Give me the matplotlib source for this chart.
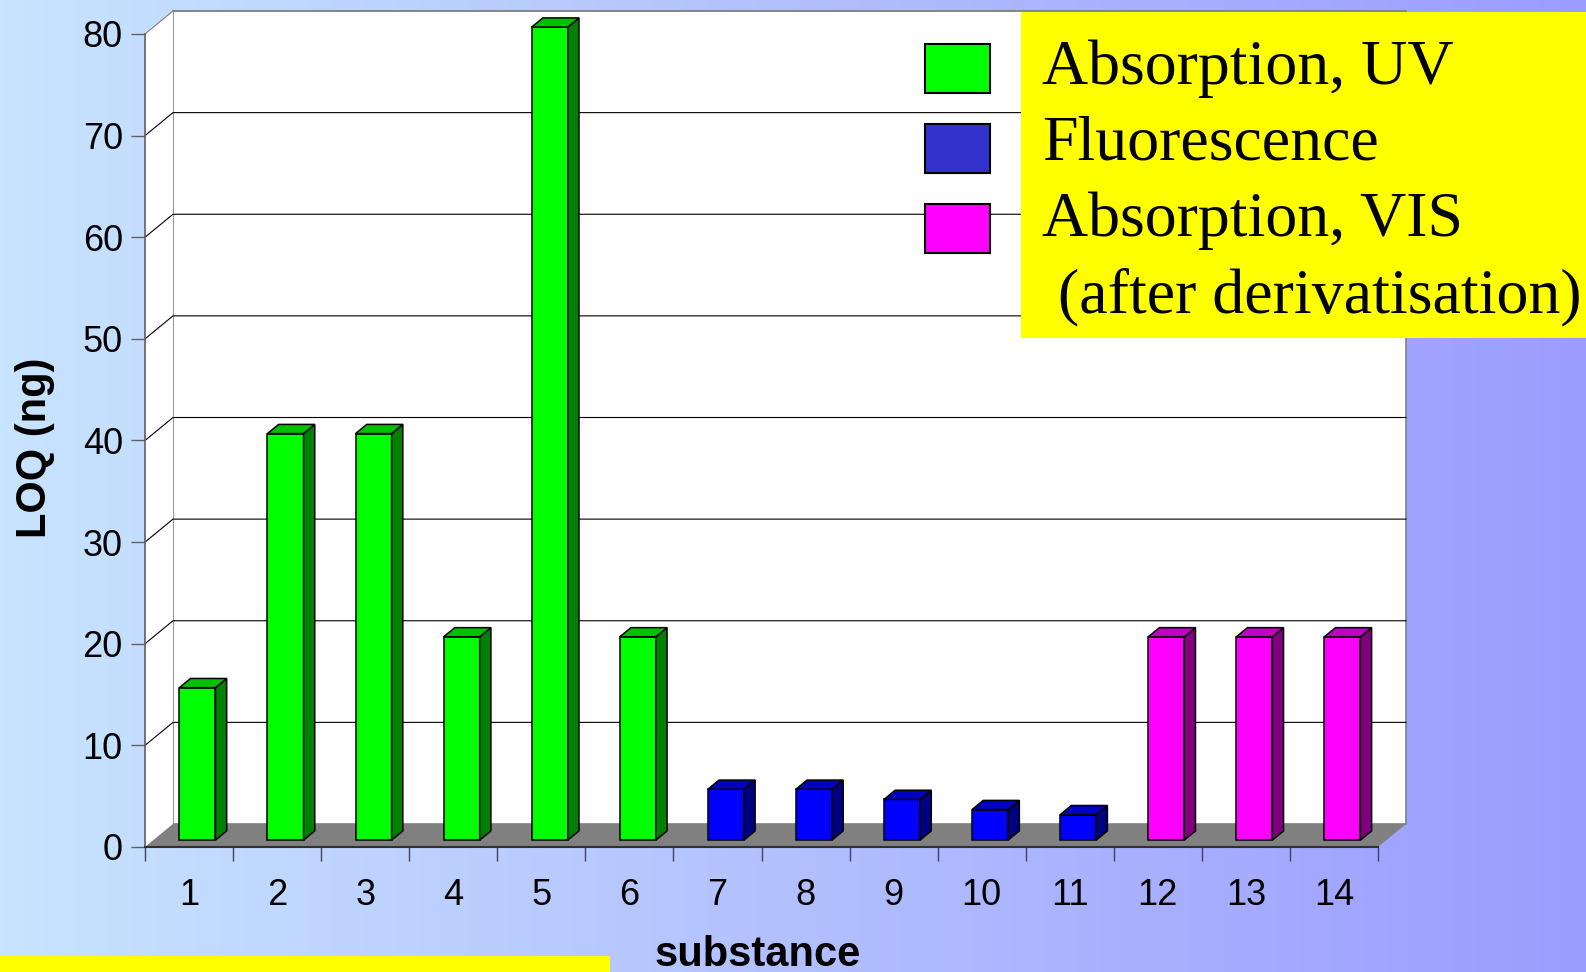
import numpy as np
import matplotlib
matplotlib.use("Agg")
from matplotlib import pyplot as plt
from matplotlib.patches import Polygon, Rectangle

# LOQ per substance, grouped by detection mode
substances = [str(i) for i in range(1, 15)]
loq_ng = [15, 40, 40, 20, 80, 20, 5, 5, 4, 3, 2.5, 20, 20, 20]
method = ["uv"] * 6 + ["fl"] * 5 + ["vis"] * 3

legend_labels = ["Absorption, UV", "Fluorescence", "Absorption, VIS",
                 " (after derivatisation)"]
y_ticks = list(range(0, 90, 10))

# face colours: front, side, top
colors = {
    "uv": ("#00FF00", "#008000", "#00C000"),
    "fl": ("#0000FF", "#000080", "#0000C0"),
    "vis": ("#FF00FF", "#800080", "#C000C0"),
}
legend_colors = ["#00FF00", "#3333CC", "#FF00FF"]

W, H = 1586, 972
fig = plt.figure(figsize=(W / 100, H / 100), dpi=100)

# gradient background
bg = fig.add_axes([0, 0, 1, 1])
grad = np.linspace(0, 1, 512)
c0 = np.array([200, 228, 255]) / 255
c1 = np.array([156, 156, 254]) / 255
img = (c0[None, :] + grad[:, None] * (c1 - c0)[None, :])[None, :, :]
bg.imshow(img, aspect="auto", extent=[0, 1, 0, 1])
bg.set_axis_off()

# front plane of the pseudo-3d chart
left, right, bottom, top = 145, 1378, 847, 34
ax = fig.add_axes([left / W, 1 - bottom / H, (right - left) / W, (bottom - top) / H])
ax.set_xlim(0, 14)
ax.set_ylim(0, 80)
ax.patch.set_visible(False)

# depth offsets in data units (28 px right, 23 px up for full depth)
DX = 28 / ((right - left) / 14)
DY = 23 / ((bottom - top) / 80)


def proj(c, v, d):
    return (c + d * DX, v + d * DY)


def face(pts, fc, ec="none", lw=0.0, z=1):
    ax.add_patch(Polygon([proj(*p) for p in pts], closed=True, facecolor=fc,
                         edgecolor=ec, linewidth=lw, clip_on=False, zorder=z))


# walls and floor
face([(0, 0, 1), (14, 0, 1), (14, 80, 1), (0, 80, 1)], "white", "#808080", 1.2, 0.5)
face([(0, 0, 0), (0, 0, 1), (0, 80, 1), (0, 80, 0)], "white", "none", 0, 0.5)
face([(0, 0, 0), (14, 0, 0), (14, 0, 1), (0, 0, 1)], "#808080", "none", 0, 0.6)

for v in y_ticks[1:]:
    col = "#808080" if v == 80 else "black"
    xs, ys = zip(proj(0, v, 0), proj(0, v, 1), proj(14, v, 1))
    ax.plot(xs, ys, color=col, lw=0.8, clip_on=False, zorder=0.7)

# bars as boxes
bw, d0, d1 = 0.41, 0.3, 0.7
for i, (h, m) in enumerate(zip(loq_ng, method)):
    fc, sc, tc = colors[m]
    x0 = i + 0.5 - bw / 2
    x1 = x0 + bw
    face([(x0, 0, d0), (x1, 0, d0), (x1, h, d0), (x0, h, d0)], fc, "black", 1.1, 2)
    face([(x1, 0, d0), (x1, 0, d1), (x1, h, d1), (x1, h, d0)], sc, "black", 1.1, 2)
    face([(x0, h, d0), (x1, h, d0), (x1, h, d1), (x0, h, d1)], tc, "black", 1.1, 2)

# axes lines and ticks
for s in ["top", "right"]:
    ax.spines[s].set_visible(False)
ax.spines["left"].set_color("#606060")
ax.spines["left"].set_linewidth(1.2)
ax.spines["bottom"].set_color("#303030")
ax.spines["bottom"].set_linewidth(1.5)

ax.set_yticks(y_ticks)
ax.set_yticklabels([str(v) for v in y_ticks], fontsize=26, family="Liberation Sans")
ax.tick_params(axis="y", length=10, width=1, color="#606060", pad=6)

ax.set_xticks(range(15))
ax.set_xticklabels([""] * 15)
ax.tick_params(axis="x", which="major", length=10, width=1, color="#404060")
ax.set_xticks(np.arange(14) + 0.5, minor=True)
ax.set_xticklabels(substances, minor=True, fontsize=26, family="Liberation Sans")
ax.tick_params(axis="x", which="minor", length=0, pad=22)

fig.text(35 / W, 1 - 448 / H, "LOQ (ng)", rotation=90, ha="center", va="center",
         fontsize=30, fontweight="bold", family="Liberation Sans")
fig.text(758 / W, 6 / H, "substance", ha="center", va="baseline",
         fontsize=30, fontweight="bold", family="Liberation Sans")

# yellow strip bottom left
fig.patches.append(Rectangle((0, 0), 610 / W, 16 / H, transform=fig.transFigure,
                             facecolor="#FFFF00", edgecolor="none", zorder=5))

# legend
fig.patches.append(Rectangle((1021 / W, 1 - 338 / H), (W - 1021) / W, 326 / H,
                             transform=fig.transFigure, facecolor="#FFFF00",
                             edgecolor="none", zorder=5))
for k, c in enumerate(legend_colors):
    y_top = 44 + 80 * k
    fig.patches.append(Rectangle((925 / W, 1 - (y_top + 49) / H), 65 / W, 49 / H,
                                 transform=fig.transFigure, facecolor=c,
                                 edgecolor="black", linewidth=1.5, zorder=6))
for k, lab in enumerate(legend_labels):
    fig.text(1042 / W, 1 - (84 + 76 * k) / H, lab, ha="left", va="baseline",
             fontsize=46, family="Liberation Serif", zorder=7)

fig.savefig("out.png", dpi=100)
